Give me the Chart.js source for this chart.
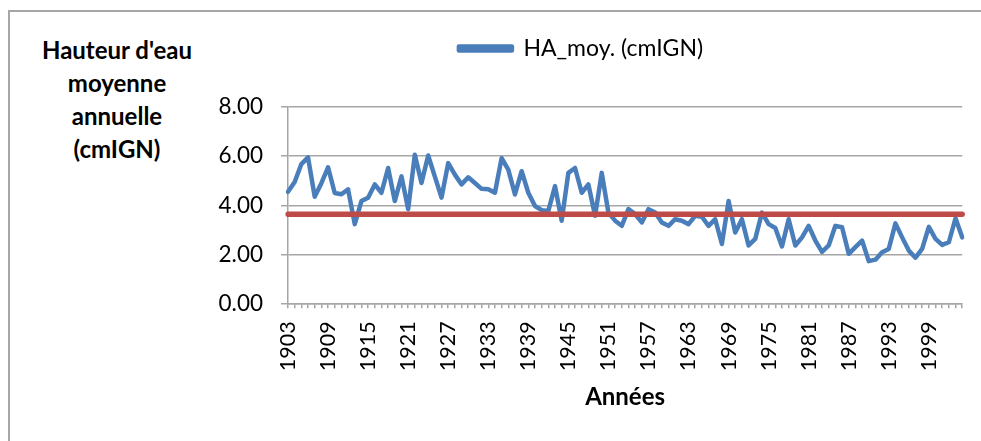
<!DOCTYPE html>
<html>
<head>
<meta charset="utf-8">
<script src="https://cdn.jsdelivr.net/npm/chart.js@4.4.0/dist/chart.umd.min.js"></script>
<style>
    body { margin: 0; background: #fff; width: 981px; height: 441px; overflow: hidden; position: relative; font-family: Lato, sans-serif; }
    #cadre { position: absolute; left: 8px; top: 10px; width: 1000px; height: 500px; border: 2px solid #a6a6a6; }
    #titreY { position: absolute; left: 17px; top: 33px; width: 200px; text-align: center; font-weight: bold; font-size: 24px; line-height: 33px; color: #000; }
    #zone { position: absolute; left: 0; top: 0; width: 1001px; height: 441px; }
</style>
</head>
<body>
<div id="cadre"></div>
<div id="titreY">Hauteur d'eau<br>moyenne<br>annuelle<br>(cmIGN)</div>
<div id="zone"><canvas id="graphique"></canvas></div>
<script>
// Années 1903 - 2004
var annees = [];
for (var a = 1903; a <= 2004; a++) annees.push(String(a));

// Hauteur d'eau moyenne annuelle (cmIGN)
var hauteurMoy = [
    4.55, 4.95, 5.68, 5.95, 4.35, 4.90, 5.55, 4.50, 4.45, 4.65,
    3.23, 4.17, 4.31, 4.85, 4.51, 5.52, 4.17, 5.18, 3.84, 6.06,
    4.91, 6.03, 5.17, 4.31, 5.72, 5.25, 4.85, 5.14, 4.91, 4.67,
    4.65, 4.51, 5.92, 5.45, 4.44, 5.39, 4.51, 3.97, 3.80, 3.77,
    4.78, 3.37, 5.32, 5.52, 4.51, 4.85, 3.57, 5.32, 3.70, 3.37,
    3.16, 3.84, 3.64, 3.30, 3.84, 3.70, 3.30, 3.16, 3.43, 3.37,
    3.23, 3.57, 3.53, 3.16, 3.43, 2.42, 4.17, 2.89, 3.43, 2.36,
    2.63, 3.70, 3.23, 3.07, 2.32, 3.43, 2.36, 2.69, 3.16, 2.56,
    2.10, 2.36, 3.16, 3.10, 2.02, 2.29, 2.56, 1.72, 1.78, 2.08,
    2.22, 3.26, 2.69, 2.15, 1.86, 2.22, 3.12, 2.63, 2.38, 2.49,
    3.47, 2.69
];

// moyenne de la période (ligne rouge)
var moyenne = 3.63;

var ticksY = [0, 2, 4, 6, 8];

Chart.defaults.font.family = 'Lato';
Chart.defaults.color = '#000';

var ctx = document.getElementById('graphique').getContext('2d');
var chart = new Chart(ctx, {
    type: 'line',
    data: {
        labels: annees,
        datasets: [{
            label: 'HA_moy. (cmIGN)',
            data: hauteurMoy,
            borderColor: '#4a7ebb',
            backgroundColor: '#4a7ebb',
            borderWidth: 4.5,
            pointRadius: 0,
            tension: 0,
            borderJoinStyle: 'round',
            borderCapStyle: 'round',
            order: 1
        }, {
            label: 'Moyenne',
            data: annees.map(function () { return moyenne; }),
            borderColor: '#be4b48',
            backgroundColor: '#be4b48',
            borderWidth: 5.5,
            pointRadius: 0,
            borderCapStyle: 'round',
            order: 0
        }]
    },
    options: {
        responsive: true,
        maintainAspectRatio: false,
        animation: false,
        layout: { padding: { left: 166, right: 5, top: 27, bottom: 0 } },
        plugins: {
            tooltip: { enabled: false },
            // espace vide entre la légende et la zone de tracé
            title: {
                display: true,
                text: ' ',
                weight: 2000,
                font: { size: 1 },
                padding: { top: 18, bottom: 18 }
            },
            legend: {
                position: 'top',
                weight: 3000,
                labels: {
                    boxWidth: 53,
                    boxHeight: 4,
                    padding: 10,
                    font: { size: 23 },
                    filter: function (item) { return item.datasetIndex === 0; }
                }
            }
        },
        scales: {
            x: {
                type: 'category',
                offset: false,
                afterFit: function (scale) { scale.height = 137.7; },
                grid: { drawOnChartArea: false, drawTicks: true, tickLength: 5, color: '#a6a6a6', lineWidth: 1.5 },
                border: { color: '#a6a6a6', width: 1.5 },
                ticks: {
                    autoSkip: false,
                    maxRotation: 90,
                    minRotation: 90,
                    padding: 13,
                    font: { size: 21.5 },
                    callback: function (v, i) { return i % 6 === 0 ? annees[i] : ''; }
                },
                title: {
                    display: true,
                    text: 'Années',
                    font: { size: 24, weight: 'bold' },
                    padding: { top: 0, bottom: 29 }
                }
            },
            y: {
                min: 0,
                max: 8,
                afterFit: function (scale) { scale.width = 122; },
                afterBuildTicks: function (scale) { scale.ticks = ticksY.map(function (v) { return { value: v }; }); },
                grid: { color: '#a6a6a6', lineWidth: 1.5, tickLength: 7 },
                border: { color: '#a6a6a6', width: 1.5 },
                ticks: {
                    padding: 18,
                    font: { size: 22.5 },
                    callback: function (v) { return Number(v).toFixed(2); }
                }
            }
        }
    }
});
</script>
</body>
</html>
